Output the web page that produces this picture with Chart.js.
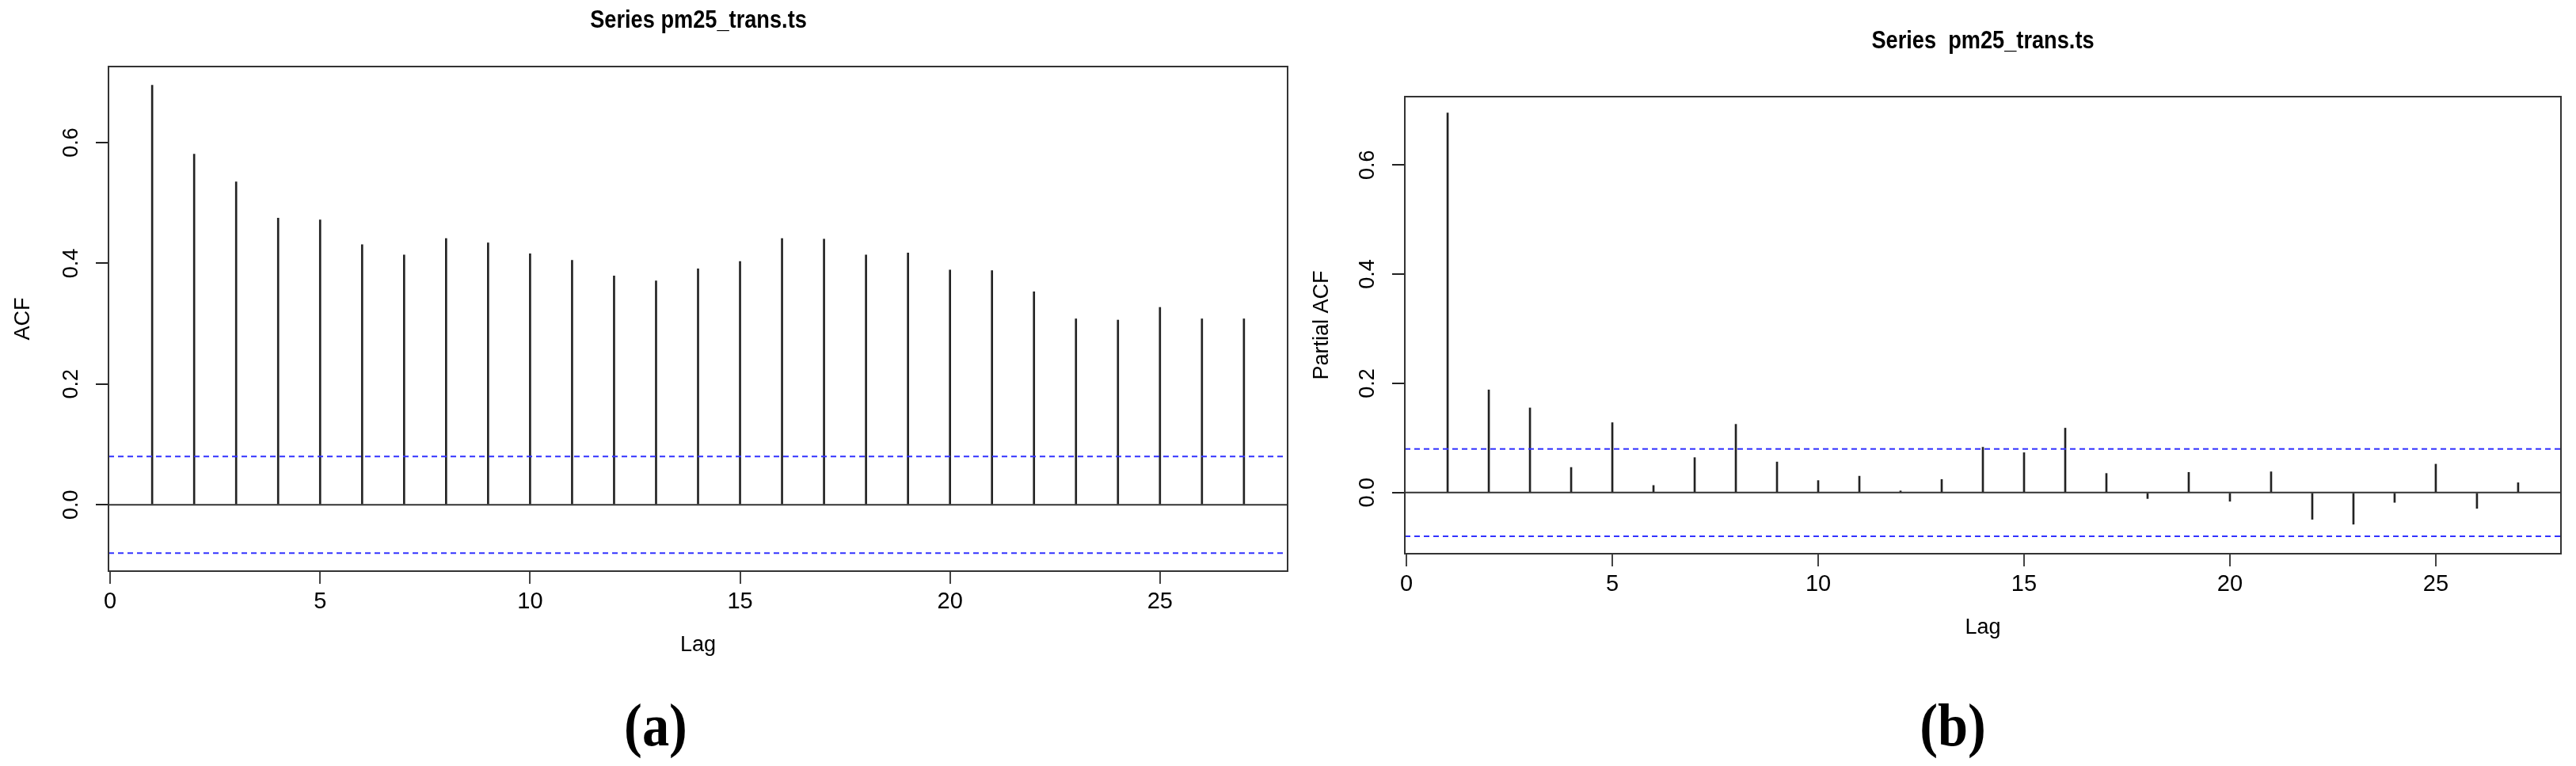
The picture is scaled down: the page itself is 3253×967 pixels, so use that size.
<!DOCTYPE html>
<html>
<head>
<meta charset="utf-8">
<script src="https://cdn.jsdelivr.net/npm/chart.js@4.4.1/dist/chart.umd.min.js"></script>
<style>
  body { margin: 0; background: #fff; width: 3253px; height: 967px; position: relative; overflow: hidden; }
  .panel { position: absolute; top: 0; }
  .title { position: absolute; font: bold 32px "Liberation Sans Narrow", "Liberation Sans", Arial, sans-serif; transform: translate(-50%, -50%) scaleX(0.85); white-space: pre; }
  .label { position: absolute; font: bold 76px "Liberation Serif", "DejaVu Serif", serif; transform: translate(-50%, -50%) scaleX(0.9); }
</style>
</head>
<body>
<div class="panel" style="left:0"><canvas id="acf" width="1660" height="967"></canvas></div>
<div class="panel" style="left:1640px"><canvas id="pacf" width="1613" height="967"></canvas></div>
<div class="title" style="left:882px; top:24px">Series pm25_trans.ts</div>
<div class="title" style="left:2504px; top:50px">Series  pm25_trans.ts</div>
<div class="label" style="left:828px; top:915px">(a)</div>
<div class="label" style="left:2466px; top:915px">(b)</div>
<script>
// Данные
const lags = [1, 2, 3, 4, 5, 6, 7, 8, 9, 10, 11, 12, 13, 14, 15, 16, 17, 18, 19, 20, 21, 22, 23, 24, 25, 26, 27];
const acfValues = [0.695, 0.581, 0.535, 0.475, 0.472, 0.431, 0.414, 0.441, 0.434, 0.416, 0.405, 0.379, 0.371,
    0.391, 0.403, 0.441, 0.440, 0.414, 0.417, 0.389, 0.388, 0.353, 0.308, 0.306, 0.327, 0.308, 0.308];
const pacfValues = [0.695, 0.188, 0.155, 0.046, 0.128, 0.013, 0.064, 0.125, 0.056, 0.022, 0.030, 0.003, 0.024,
    0.083, 0.073, 0.118, 0.035, -0.011, 0.037, -0.016, 0.038, -0.049, -0.058, -0.018, 0.052, -0.029, 0.018];
const xTicks = [0, 5, 10, 15, 20, 25];
const yTicks = [0.0, 0.2, 0.4, 0.6];
const ciBound = 0.08;

const tickFont = '"Liberation Sans", Arial, sans-serif';

// Рамка и подписи оси Y (повёрнутые, как в R)
const rPlot = {
    id: 'rPlot',
    afterDraw(chart, args, opts) {
        const ctx = chart.ctx, a = chart.chartArea, y = chart.scales.y;
        ctx.save();
        ctx.strokeStyle = '#333';
        ctx.lineWidth = 2;
        ctx.strokeRect(a.left, a.top, a.right - a.left, a.bottom - a.top);
        ctx.fillStyle = '#000';
        ctx.font = '27px ' + tickFont;
        ctx.textAlign = 'center';
        ctx.textBaseline = 'middle';
        yTicks.forEach(v => {
            ctx.save();
            ctx.translate(a.left - 46, y.getPixelForValue(v));
            ctx.rotate(-Math.PI / 2);
            ctx.fillText(v.toFixed(1), 0, 0);
            ctx.restore();
        });
        ctx.translate(a.left - opts.titleOffset, (a.top + a.bottom) / 2);
        ctx.rotate(-Math.PI / 2);
        ctx.fillText(opts.yTitle, 0, 0);
        ctx.restore();
    }
};

function makeChart(id, values, yTitle, yMin, yMax, area) {
    const flat = y => [{ x: -0.04, y }, { x: 28.04, y }];
    return new Chart(document.getElementById(id), {
        type: 'bar',
        data: {
            datasets: [
                { type: 'line', data: flat(0), borderColor: '#333', borderWidth: 2, pointRadius: 0 },
                { type: 'line', data: flat(ciBound), borderColor: '#3333ff', borderWidth: 2, borderDash: [7, 5], pointRadius: 0 },
                { type: 'line', data: flat(-ciBound), borderColor: '#3333ff', borderWidth: 2, borderDash: [7, 5], pointRadius: 0 },
                { data: lags.map((l, i) => ({ x: l, y: values[i] })), backgroundColor: '#222', barThickness: 2 }
            ]
        },
        options: {
            responsive: false,
            animation: false,
            devicePixelRatio: 1,
            layout: { padding: { left: 0, top: area.top, right: area.right, bottom: 967 - area.bottom - 130 } },
            plugins: { legend: { display: false }, tooltip: { enabled: false }, rPlot: { yTitle, titleOffset: area.titleOffset } },
            scales: {
                x: {
                    type: 'linear', min: -0.04, max: 28.04, offset: false,
                    afterBuildTicks: s => { s.ticks = xTicks.map(v => ({ value: v })); },
                    afterFit: s => { s.height = 130; },
                    border: { display: false },
                    grid: { offset: false, drawOnChartArea: false, tickLength: 16, color: '#444', lineWidth: 2 },
                    ticks: { color: '#000', font: { family: '"Liberation Sans Narrow", "Liberation Sans", Arial', size: 29 }, padding: 6, maxRotation: 0 },
                    title: { display: true, text: 'Lag', color: '#000', font: { family: tickFont, size: 27 }, padding: { top: 0, bottom: 20 } }
                },
                y: {
                    min: yMin, max: yMax,
                    afterBuildTicks: s => { s.ticks = yTicks.map(v => ({ value: v })); },
                    afterFit: s => { s.width = area.left; },
                    border: { display: false },
                    grid: { drawOnChartArea: false, tickLength: 16, color: '#222', lineWidth: 2 },
                    ticks: { display: false }
                }
            }
        },
        plugins: [rPlot]
    });
}

makeChart('acf', acfValues, 'ACF', -0.11, 0.726, { left: 137, top: 84, right: 1660 - 1626, bottom: 721, titleOffset: 107 });
makeChart('pacf', pacfValues, 'Partial ACF', -0.112, 0.725, { left: 134, top: 122, right: 1613 - 1594, bottom: 699, titleOffset: 104 });
</script>
</body>
</html>
